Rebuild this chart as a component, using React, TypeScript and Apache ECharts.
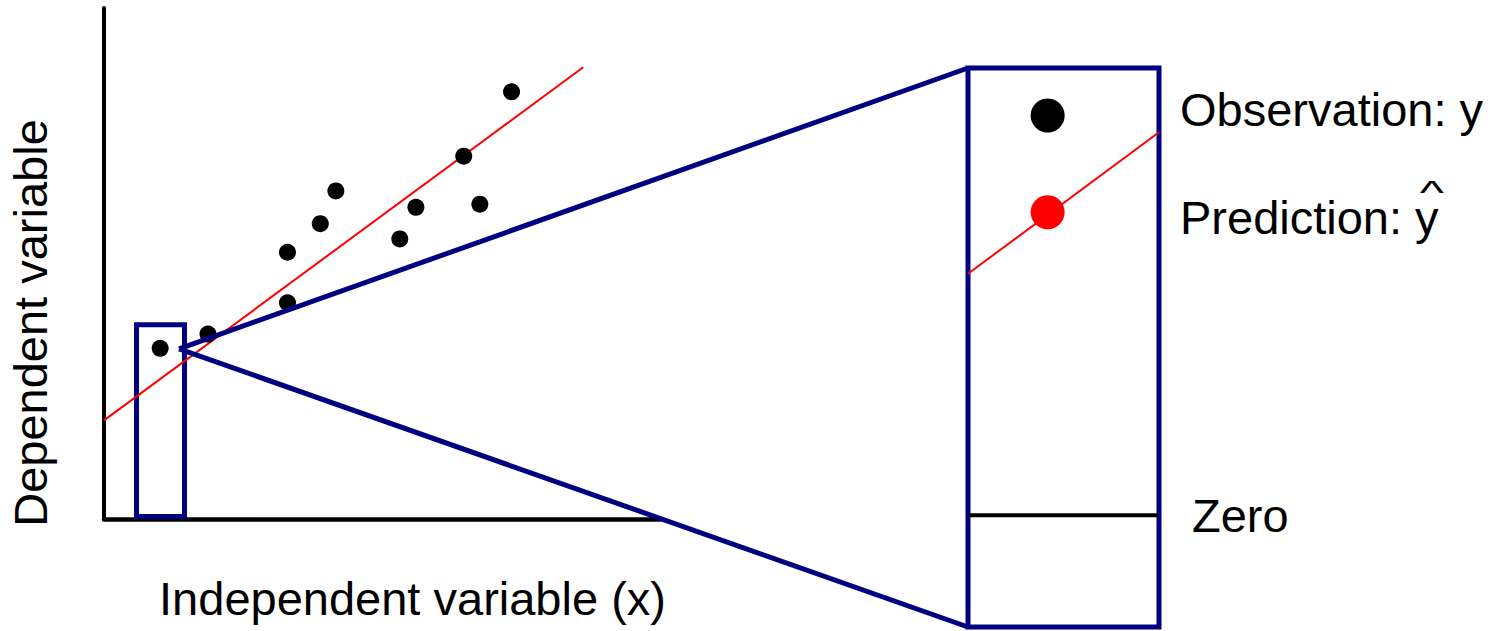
import React, { useEffect, useRef } from "react";
import * as echarts from "echarts";

// ---- main scatter (data units: x 0..100, y 0..100) ----
const observationX = [10.1, 18.7, 33.0, 33.0, 38.9, 41.7, 53.2, 56.1, 64.7, 67.6, 73.3];
const observationY = [33.4, 36.2, 42.3, 52.2, 57.8, 64.2, 54.8, 61.0, 71.0, 61.6, 83.6];
const fitLineX = [0, 86.2];
const fitLineY = [19.3, 88.4];
const mainRangeX = [0, 100];
const mainRangeY = [0, 100];
const zoomBoxX = [5.85, 14.48];
const zoomBoxY = [0.5, 38.0];
const zoomApex = [13.5, 33.3];

// ---- magnified panel ----
const panelRangeX = [0, 100];
const panelRangeY = [-20, 80];
const panelObservation = [41.7, 71.5];
const panelPrediction = [41.7, 54.2];
const panelFitX = [0, 100];
const panelFitY = [43.2, 68.5];
const panelZeroX = [0, 100];
const panelZeroY = [0, 0];

// ---- texts ----
const observationLabel = "Observation: y";
const predictionLabel = "Prediction: y";
const hatLabel = "^";
const zeroLabel = "Zero";
const xAxisName = "Independent variable (x)";
const yAxisName = "Dependent variable";

const NAVY = "#000080";
const FONT = "'Liberation Sans', Arial, Helvetica, sans-serif";

function txt(text: string, x: number, y: number, align: string, extra: any = {}) {
  return {
    type: "text",
    x,
    y,
    silent: true,
    z: 100,
    ...extra,
    style: {
      text,
      fill: "#000",
      fontSize: 47,
      fontFamily: FONT,
      align,
      textAlign: align,
      verticalAlign: "middle",
      textVerticalAlign: "middle",
    },
  };
}

export default function App() {
  const ref = useRef<HTMLDivElement>(null);
  useEffect(() => {
    if (!ref.current) return;
    const chart = echarts.init(ref.current, undefined, { renderer: "svg" });
    const hiddenAxis = { show: false };
    const option: any = {
      animation: false,
      backgroundColor: "#ffffff",
      grid: [
        { left: 104, top: 8, width: 556, height: 511, show: false },
        {
          left: 968,
          top: 68,
          width: 191,
          height: 559,
          show: true,
          borderColor: NAVY,
          borderWidth: 5,
          backgroundColor: "transparent",
        },
      ],
      xAxis: [
        {
          type: "value",
          gridIndex: 0,
          min: mainRangeX[0],
          max: mainRangeX[1],
          axisLine: { show: true, onZero: false, lineStyle: { color: "#000", width: 4.5 } },
          axisTick: { show: false },
          axisLabel: { show: false },
          splitLine: { show: false },
        },
        { type: "value", gridIndex: 1, min: panelRangeX[0], max: panelRangeX[1], ...hiddenAxis },
      ],
      yAxis: [
        {
          type: "value",
          gridIndex: 0,
          min: mainRangeY[0],
          max: mainRangeY[1],
          axisLine: { show: true, onZero: false, lineStyle: { color: "#000", width: 4 } },
          axisTick: { show: false },
          axisLabel: { show: false },
          splitLine: { show: false },
        },
        { type: "value", gridIndex: 1, min: panelRangeY[0], max: panelRangeY[1], ...hiddenAxis },
      ],
      series: [
        {
          type: "line",
          xAxisIndex: 0,
          yAxisIndex: 0,
          data: fitLineX.map((x, i) => [x, fitLineY[i]]),
          symbol: "none",
          lineStyle: { color: "#ff0000", width: 2 },
          silent: true,
          z: 2,
        },
        {
          type: "scatter",
          xAxisIndex: 0,
          yAxisIndex: 0,
          data: observationX.map((x, i) => [x, observationY[i]]),
          symbolSize: 17,
          itemStyle: { color: "#000", opacity: 1 },
          silent: true,
          z: 3,
          markArea: {
            silent: true,
            itemStyle: { color: "rgba(0,0,0,0)", borderColor: NAVY, borderWidth: 5, opacity: 1 },
            data: [[{ coord: [zoomBoxX[0], zoomBoxY[1]] }, { coord: [zoomBoxX[1], zoomBoxY[0]] }]],
          },
        },
        {
          type: "line",
          xAxisIndex: 1,
          yAxisIndex: 1,
          data: panelFitX.map((x, i) => [x, panelFitY[i]]),
          symbol: "none",
          lineStyle: { color: "#ff0000", width: 2 },
          silent: true,
          z: 2,
        },
        {
          type: "line",
          xAxisIndex: 1,
          yAxisIndex: 1,
          data: panelZeroX.map((x, i) => [x, panelZeroY[i]]),
          symbol: "none",
          lineStyle: { color: "#000", width: 4 },
          silent: true,
          z: 2,
        },
        {
          type: "scatter",
          xAxisIndex: 1,
          yAxisIndex: 1,
          data: [panelObservation],
          symbolSize: 34,
          itemStyle: { color: "#000", opacity: 1 },
          silent: true,
          z: 3,
        },
        {
          type: "scatter",
          xAxisIndex: 1,
          yAxisIndex: 1,
          data: [panelPrediction],
          symbolSize: 34,
          itemStyle: { color: "#ff0000", opacity: 1 },
          silent: true,
          z: 3,
        },
      ],
    };
    chart.setOption(option);

    const apex = chart.convertToPixel({ gridIndex: 0 }, zoomApex) as number[];
    const topCorner = chart.convertToPixel({ xAxisIndex: 1, yAxisIndex: 1 }, [panelRangeX[0], panelRangeY[1]]) as number[];
    const bottomCorner = chart.convertToPixel({ xAxisIndex: 1, yAxisIndex: 1 }, [panelRangeX[0], panelRangeY[0]]) as number[];

    chart.setOption({
      graphic: [
        {
          type: "line",
          silent: true,
          z: 50,
          shape: { x1: apex[0], y1: apex[1], x2: topCorner[0], y2: topCorner[1] },
          style: { stroke: NAVY, lineWidth: 5 },
        },
        {
          type: "line",
          silent: true,
          z: 50,
          shape: { x1: apex[0], y1: apex[1], x2: bottomCorner[0], y2: bottomCorner[1] },
          style: { stroke: NAVY, lineWidth: 5 },
        },
        txt(observationLabel, 1180, 109.5, "left"),
        txt(predictionLabel, 1180, 217, "left"),
        txt(hatLabel, 1432, 192.3, "center", { scaleX: 1.1, scaleY: 0.72 }),
        txt(zeroLabel, 1192, 515, "left"),
        txt(xAxisName, 412.5, 598, "center"),
        txt(yAxisName, 30, 323, "center", { rotation: Math.PI / 2 }),
      ],
    });

    return () => chart.dispose();
  }, []);
  return (
    <div
      ref={ref}
      style={{ position: "fixed", left: 0, top: 0, width: 1497, height: 631, background: "#fff" }}
    />
  );
}
